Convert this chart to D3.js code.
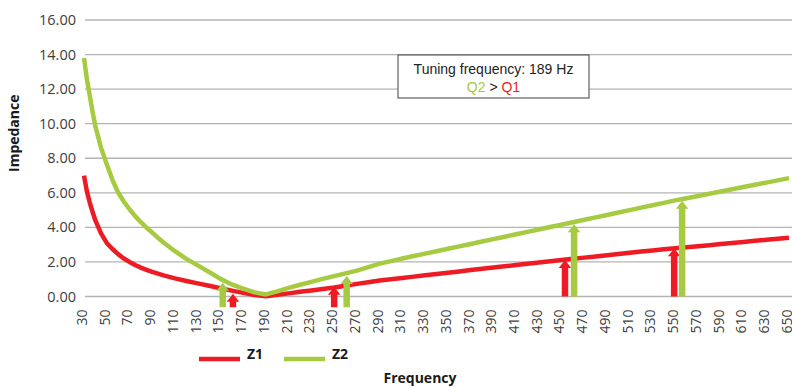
<!DOCTYPE html>
<html>
<head>
<meta charset="utf-8">
<script src="https://cdn.jsdelivr.net/npm/d3@7"></script>
<style>
  body { margin: 0; background: #fff; }
  svg text { font-family: "Open Sans", sans-serif; }
</style>
</head>
<body>
<svg id="chart" width="792" height="387"></svg>
<script>
// Frequency samples (Hz) and the two impedance curves
const frequency = [30, 32.5, 35, 37.5, 40, 45, 50, 55, 60, 65, 70, 75, 80, 85, 90, 95, 100,
    110, 120, 130, 140, 150, 160, 170, 180, 190,
    200, 210, 220, 230, 240, 250, 260, 270, 280, 290, 300, 310, 320, 330, 340, 350, 360, 370, 380,
    390, 400, 410, 420, 430, 440, 450, 460, 470, 480, 490, 500, 510, 520, 530, 540, 550, 560, 570,
    580, 590, 600, 610, 620, 630, 640, 650];

const z1 = [7.00, 6.10, 5.45, 4.90, 4.40, 3.65, 3.10, 2.75, 2.45, 2.20, 2.00, 1.82, 1.67, 1.54, 1.42, 1.32, 1.22,
    1.05, 0.90, 0.76, 0.62, 0.48, 0.34, 0.21, 0.09, 0.02,
    0.10, 0.18, 0.27, 0.35, 0.44, 0.52, 0.62, 0.73, 0.83, 0.93, 1.00, 1.07, 1.15, 1.23, 1.30, 1.38, 1.45, 1.53, 1.60,
    1.68, 1.75, 1.82, 1.90, 1.97, 2.04, 2.11, 2.18, 2.25, 2.32, 2.39, 2.46, 2.53, 2.60, 2.66, 2.73, 2.79, 2.85, 2.91,
    2.97, 3.04, 3.10, 3.16, 3.22, 3.28, 3.34, 3.40];

const z2 = [13.80, 12.60, 11.65, 10.70, 9.85, 8.60, 7.65, 6.75, 6.02, 5.50, 5.05, 4.65, 4.30, 3.98, 3.70, 3.40, 3.12,
    2.62, 2.18, 1.80, 1.42, 1.02, 0.70, 0.45, 0.24, 0.12,
    0.30, 0.50, 0.68, 0.85, 1.02, 1.18, 1.34, 1.50, 1.70, 1.90, 2.05, 2.20, 2.34, 2.48, 2.62, 2.76, 2.90, 3.04, 3.18,
    3.32, 3.46, 3.60, 3.74, 3.88, 4.02, 4.16, 4.30, 4.44, 4.58, 4.72, 4.86, 5.00, 5.14, 5.28, 5.42, 5.56, 5.69, 5.82,
    5.95, 6.08, 6.21, 6.34, 6.47, 6.59, 6.72, 6.85];

const xTickLabels = [30, 50, 70, 90, 110, 130, 150, 170, 190, 210, 230, 250, 270, 290, 310, 330, 350,
    370, 390, 410, 430, 450, 470, 490, 510, 530, 550, 570, 590, 610, 630, 650];
const yTickValues = [0, 2, 4, 6, 8, 10, 12, 14, 16];

// Vertical arrows (series, frequency, base value, tip value)
const arrowSeries = ["Z2", "Z1", "Z1", "Z2", "Z1", "Z2", "Z1", "Z2"];
const arrowFreq   = [152, 161, 250, 261, 453, 461, 549, 556];
const arrowFrom   = [-0.62, -0.62, -0.62, -0.62, 0, 0, 0, 0];
const arrowTo     = [0.80, 0.16, 0.57, 1.19, 2.11, 4.18, 2.79, 5.54];

const colors = { Z1: "#ed1c24", Z2: "#a6ca42" };

const svg = d3.select("#chart");
const margin = { top: 20, right: 3, bottom: 90.5, left: 84 };
const width = +svg.attr("width");
const height = +svg.attr("height");

const x = d3.scaleLinear().domain([30, 650]).range([margin.left, width - margin.right]);
const y = d3.scaleLinear().domain([0, 16]).range([height - margin.bottom, margin.top]);

// gridlines
svg.append("g").selectAll("line").data(yTickValues).join("line")
    .attr("x1", margin.left + 1).attr("x2", width)
    .attr("y1", d => y(d)).attr("y2", d => y(d))
    .attr("stroke", "#b4b4b4").attr("stroke-width", 1.3);

// y labels
svg.append("g").selectAll("text").data(yTickValues).join("text")
    .attr("x", margin.left - 8).attr("y", d => y(d)).attr("dy", "0.35em")
    .attr("text-anchor", "end").attr("font-size", 14.5).attr("fill", "#404040")
    .text(d => d.toFixed(2));

// x labels, rotated
svg.append("g").selectAll("text").data(xTickLabels).join("text")
    .attr("transform", d => `translate(${x(d) - 2},${y(0) + 13}) rotate(-90)`)
    .attr("dy", "0.35em").attr("text-anchor", "end")
    .attr("font-size", 14).attr("fill", "#404040")
    .text(d => d);

// axis titles
svg.append("text")
    .attr("transform", `translate(19,${(margin.top + y(0)) / 2 - 25}) rotate(-90)`)
    .attr("text-anchor", "middle").attr("font-size", 14).attr("font-weight", "bold").attr("fill", "#1a1a1a")
    .text("Impedance");
svg.append("text")
    .attr("x", 420).attr("y", 383)
    .attr("text-anchor", "middle").attr("font-size", 14).attr("font-weight", "bold").attr("fill", "#1a1a1a")
    .text("Frequency");

// curves
const line = d3.line().x((d, i) => x(frequency[i])).y(d => y(d));
[["Z1", z1], ["Z2", z2]].forEach(([name, values]) => {
    svg.append("path").datum(values)
        .attr("fill", "none").attr("stroke", colors[name]).attr("stroke-width", 4.5)
        .attr("stroke-linejoin", "round")
        .attr("d", line);
});

// arrows
const shaftW = 6.5, headW = 12.5, headH = 8;
arrowFreq.forEach((f, i) => {
    const cx = x(f), top = y(arrowTo[i]), bottom = y(arrowFrom[i]);
    const p = d3.path();
    p.moveTo(cx - shaftW / 2, bottom);
    p.lineTo(cx - shaftW / 2, top + headH);
    p.lineTo(cx - headW / 2, top + headH);
    p.lineTo(cx, top);
    p.lineTo(cx + headW / 2, top + headH);
    p.lineTo(cx + shaftW / 2, top + headH);
    p.lineTo(cx + shaftW / 2, bottom);
    p.closePath();
    svg.append("path").attr("d", p.toString()).attr("fill", colors[arrowSeries[i]]);
});

// annotation box
const note = svg.append("g").attr("transform", "translate(398,55)");
note.append("rect").attr("width", 191).attr("height", 43)
    .attr("fill", "#fff").attr("stroke", "#404040").attr("stroke-width", 1);
note.append("text").attr("x", 95.5).attr("y", 19)
    .attr("text-anchor", "middle").attr("font-size", 14)
    .style("font-family", "'Liberation Sans', Arial, sans-serif").attr("fill", "#222")
    .text("Tuning frequency: 189 Hz");
const t2 = note.append("text").attr("x", 95.5).attr("y", 37)
    .attr("text-anchor", "middle").attr("font-size", 14)
    .style("font-family", "'Liberation Sans', Arial, sans-serif").attr("fill", "#222");
t2.append("tspan").attr("fill", colors.Z2).text("Q2");
t2.append("tspan").text(" > ");
t2.append("tspan").attr("fill", colors.Z1).text("Q1");

// legend
const legend = svg.append("g").attr("transform", "translate(199,358)");
[["Z1", 0], ["Z2", 85]].forEach(([name, dx]) => {
    legend.append("line").attr("x1", dx).attr("x2", dx + 41).attr("y1", 1).attr("y2", 1)
        .attr("stroke", colors[name]).attr("stroke-width", 4.5);
    legend.append("text").attr("x", dx + 48).attr("y", 1)
        .attr("font-size", 14).attr("font-weight", "bold").attr("fill", "#1a1a1a")
        .text(name);
});
</script>
</body>
</html>
